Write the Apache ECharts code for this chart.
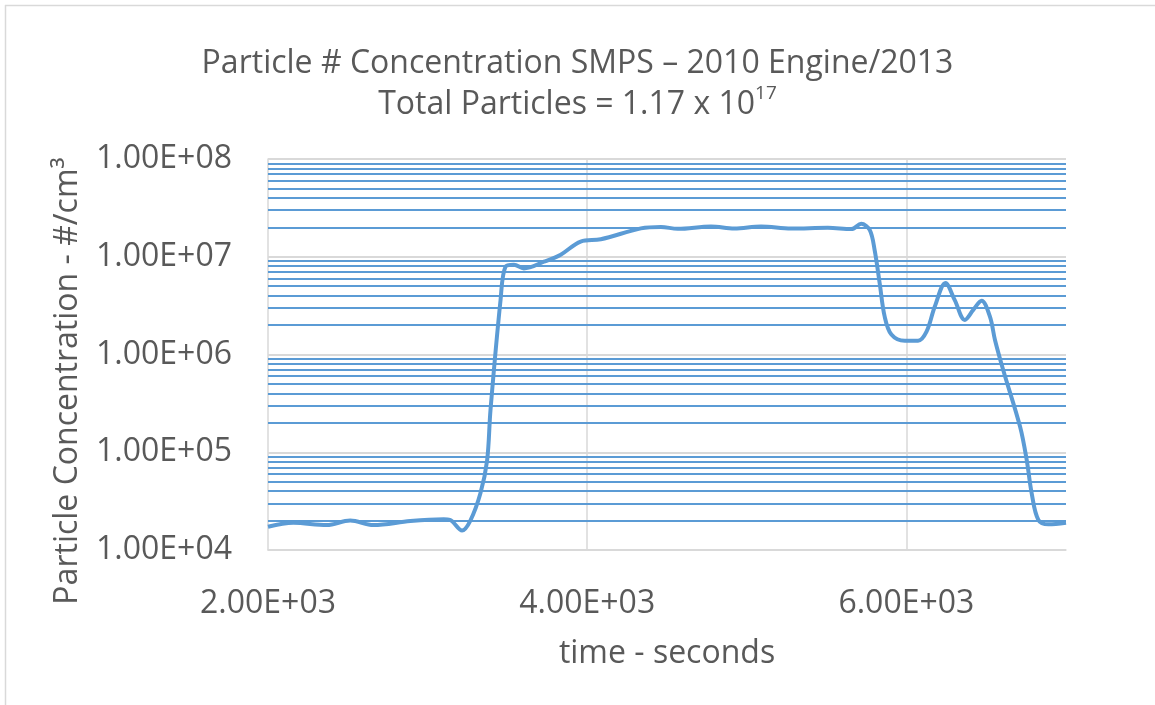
<!DOCTYPE html>
<html>
<head>
<meta charset="utf-8">
<script src="https://cdn.jsdelivr.net/npm/echarts@6/dist/echarts.min.js"></script>
<style>
  html, body { margin: 0; padding: 0; background: #fff; }
  #chart { width: 1155px; height: 705px; }
</style>
</head>
<body>
<div id="chart"></div>
<script>
// time in seconds and SMPS concentration (#/cm3)
const times = [2000, 2159, 2368, 2515, 2661, 2892, 3101, 3140, 3216, 3268, 3331, 3373, 3394,
  3457, 3488, 3541, 3603, 3729, 3834, 3959, 4085, 4336, 4462, 4567, 4776, 4922, 5089, 5278, 5508,
  5655, 5717, 5770, 5801, 5833, 5864, 5906, 5990, 6073, 6126, 6178, 6245, 6303, 6366, 6419, 6471,
  6523, 6555, 6607, 6712, 6754, 6785, 6827, 6890, 7000];
const concentration = [1.73e4, 1.9e4, 1.8e4, 2.0e4, 1.8e4, 1.98e4, 2.06e4, 2.03e4, 1.58e4, 2.0e4,
  3.8e4, 8.3e4, 2.7e5, 3.6e6, 7.9e6, 8.3e6, 7.6e6, 8.9e6, 1.05e7, 1.43e7, 1.51e7, 1.95e7,
  2.02e7, 1.93e7, 2.04e7, 1.94e7, 2.04e7, 1.94e7, 1.98e7, 1.92e7, 2.17e7, 1.88e7, 1.17e7, 5.3e6,
  2.44e6, 1.6e6, 1.38e6, 1.38e6, 1.71e6, 3.1e6, 5.4e6, 3.6e6, 2.26e6, 2.86e6, 3.55e6, 2.45e6,
  1.41e6, 6.9e5, 1.83e5, 8.3e4, 3.8e4, 2.03e4, 1.83e4, 1.9e4];
// minor grid values 2..9 x 10^n
const minorGrid = [2e4, 3e4, 4e4, 5e4, 6e4, 7e4, 8e4, 9e4,
  2e5, 3e5, 4e5, 5e5, 6e5, 7e5, 8e5, 9e5,
  2e6, 3e6, 4e6, 5e6, 6e6, 7e6, 8e6, 9e6,
  2e7, 3e7, 4e7, 5e7, 6e7, 7e7, 8e7, 9e7];

const FONT = 'Open Sans';
const GREY = '#595959';
const BLUE = '#5b9bd5';

function sci(v) {
  const e = Math.floor(Math.log10(v) + 1e-9);
  const m = (v / Math.pow(10, e)).toFixed(2);
  return m + 'E+' + (e < 10 ? '0' + e : e);
}

const chart = echarts.init(document.getElementById('chart'));
chart.setOption({
  animation: false,
  backgroundColor: '#fff',
  title: {
    text: 'Particle # Concentration SMPS \u2013 2010 Engine/2013\nTotal Particles = 1.17 x 10{sup|17}',
    left: 'center',
    top: 43,
    padding: [0, 0, 0, 40],
    textStyle: {
      fontFamily: FONT,
      fontSize: 32,
      fontWeight: 'normal',
      color: GREY,
      lineHeight: 41,
      rich: {
        sup: { fontFamily: FONT, fontSize: 19, color: GREY, verticalAlign: 'top', lineHeight: 41, padding: [0, 0, 16, 0] }
      }
    }
  },
  grid: { left: 268, right: 89, top: 159, bottom: 155 },
  xAxis: {
    type: 'value',
    min: 2000,
    max: 7000,
    interval: 2000,
    name: 'time - seconds',
    nameLocation: 'middle',
    nameGap: 88,
    nameTextStyle: { fontFamily: FONT, fontSize: 32, color: GREY },
    axisLine: { show: true, lineStyle: { color: '#d9d9d9', width: 1.5 } },
    axisTick: { show: false },
    axisLabel: {
      margin: 38,
      fontFamily: FONT, fontSize: 32, color: GREY,
      formatter: v => (v % 2000 === 0 ? sci(v) : '')
    },
    splitLine: { show: true, showMinLine: false, showMaxLine: false, lineStyle: { color: '#d9d9d9', width: 1.5 } }
  },
  yAxis: {
    type: 'log',
    min: 1e4,
    max: 1e8,
    logBase: 10,
    name: 'Particle Concentration - #/cm\u00b3',
    nameLocation: 'middle',
    nameGap: 184,
    nameTextStyle: { fontFamily: FONT, fontSize: 32, color: GREY, padding: [0, 53, 0, 0] },
    axisLine: { show: true, lineStyle: { color: '#d9d9d9', width: 1.5 } },
    axisTick: { show: false },
    axisLabel: { margin: 36, fontFamily: FONT, fontSize: 32, color: GREY, formatter: v => sci(v) },
    splitLine: { show: true, lineStyle: { color: '#d9d9d9', width: 2 } }
  },
  graphic: [
    { type: 'line', shape: { x1: 5, y1: 5.5, x2: 1155, y2: 5.5 }, style: { stroke: '#d9d9d9', lineWidth: 1.5 } },
    { type: 'line', shape: { x1: 5.5, y1: 5, x2: 5.5, y2: 705 }, style: { stroke: '#d9d9d9', lineWidth: 1.5 } }
  ],
  series: [{
    type: 'line',
    data: times.map((t, i) => [t, concentration[i]]),
    smooth: 0.35,
    showSymbol: false,
    z: 3,
    lineStyle: { color: BLUE, width: 4 },
    markLine: {
      silent: true,
      symbol: 'none',
      z: 1,
      label: { show: false },
      lineStyle: { color: BLUE, width: 1.8, type: 'solid' },
      data: minorGrid.map(v => ({ yAxis: v }))
    }
  }]
});
</script>
</body>
</html>
